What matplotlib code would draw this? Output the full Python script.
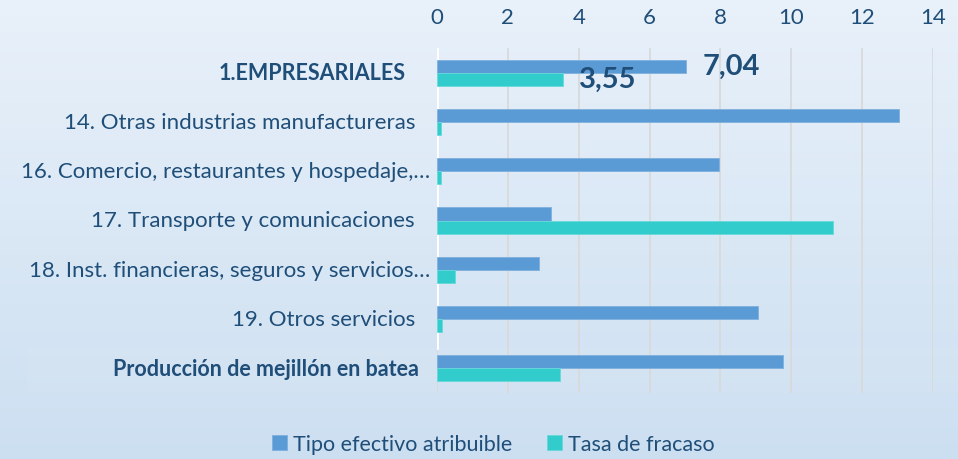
import numpy as np
import matplotlib
matplotlib.use("Agg")
import matplotlib.pyplot as plt
from matplotlib.patches import Rectangle

# data
categories = [
    "1.EMPRESARIALES",
    "14. Otras industrias manufactureras",
    "16. Comercio, restaurantes y hospedaje,…",
    "17. Transporte y comunicaciones",
    "18. Inst. financieras, seguros y servicios…",
    "19. Otros servicios",
    "Producción de mejillón en batea",
]
tipo_efectivo = [7.04, 13.04, 7.96, 3.22, 2.88, 9.06, 9.77]
tasa_fracaso = [3.55, 0.11, 0.10, 11.18, 0.52, 0.14, 3.47]
bold_rows = [0, 6]
labelled_rows = [0]
x_ticks = [0, 2, 4, 6, 8, 10, 12, 14]

# layout: right edge of each category label, in pixels from the left of the figure
label_right_px = [406, 415, 430, 415, 430, 415, 419]

blue = "#5B9BD5"
teal = "#33CCCC"
text_col = "#1F4E79"
plt.rcParams["font.family"] = ["Lato", "DejaVu Sans"]

W, H = 958, 460
fig = plt.figure(figsize=(W / 100, H / 100), dpi=100)

# gradient background
bg = fig.add_axes([0, 0, 1, 1], zorder=-2)
top = np.array([233, 241, 250]) / 255
bot = np.array([204, 223, 241]) / 255
t = np.linspace(0, 1, 256)[:, None]
grad = (top[None, :] * (1 - t) + bot[None, :] * t)[:, None, :]
bg.imshow(grad, aspect="auto", extent=[0, 1, 0, 1])
bg.axis("off")
bg.add_patch(Rectangle((27 / W, (H - 394) / H), 1 - 27 / W, 45 / H,
                       transform=bg.transAxes, color="white", alpha=0.06, lw=0))

ax_l, ax_r, ax_t, ax_b = 437, 933, 49, 394
ax = fig.add_axes([ax_l / W, (H - ax_b) / H, (ax_r - ax_l) / W, (ax_b - ax_t) / H])
ax.set_facecolor("none")

y = np.arange(len(categories))
h = 0.264
b1 = ax.barh(y - h / 2, tipo_efectivo, height=h, color=blue, edgecolor="#7FB0DE",
             linewidth=0.6, zorder=3, label="Tipo efectivo atribuible")
b2 = ax.barh(y + h / 2, tasa_fracaso, height=h, color=teal, edgecolor="#66D9D9",
             linewidth=0.6, zorder=3, label="Tasa de fracaso")

ax.set_xlim(0, 14)
ax.set_ylim(len(categories) - 0.5, -0.5)
ax.set_xticks(x_ticks)
ax.xaxis.tick_top()
ax.tick_params(axis="x", length=0, pad=15, labelsize=16, labelcolor=text_col)
ax.set_yticks([])
ax.grid(axis="x", color="#D9D9D9", linewidth=1.3, zorder=0)
for s in ax.spines.values():
    s.set_visible(False)
ax.axvline(0, ymin=(ax_b - 349) / (ax_b - ax_t), ymax=1, color="white", lw=2, zorder=2)

# category labels
for i, lab in enumerate(categories):
    xf = (label_right_px[i] - ax_l) / (ax_r - ax_l)
    bold = i in bold_rows
    ax.text(xf, i, lab, transform=ax.get_yaxis_transform(), ha="right", va="center",
            fontsize=15.5 if bold else 16, color=text_col,
            fontweight="bold" if bold else "normal")

# value labels
for i in labelled_rows:
    for bars, vals in ((b1, tipo_efectivo), (b2, tasa_fracaso)):
        r = bars[i]
        ax.annotate(f"{vals[i]:.2f}".replace(".", ","),
                    (r.get_width(), r.get_y() + r.get_height() / 2),
                    xytext=(11.5, 0), textcoords="offset points",
                    ha="left", va="center", fontsize=21, fontweight="bold",
                    color=text_col, zorder=5)

fig.legend(handles=[b1, b2], loc="center", bbox_to_anchor=(0.515, 1 - 445 / H),
           ncol=2, frameon=False, fontsize=15.5, labelcolor=text_col,
           handlelength=0.7, handleheight=0.7, handletextpad=0.3, columnspacing=1.6)

fig.savefig("out.png", dpi=100)
